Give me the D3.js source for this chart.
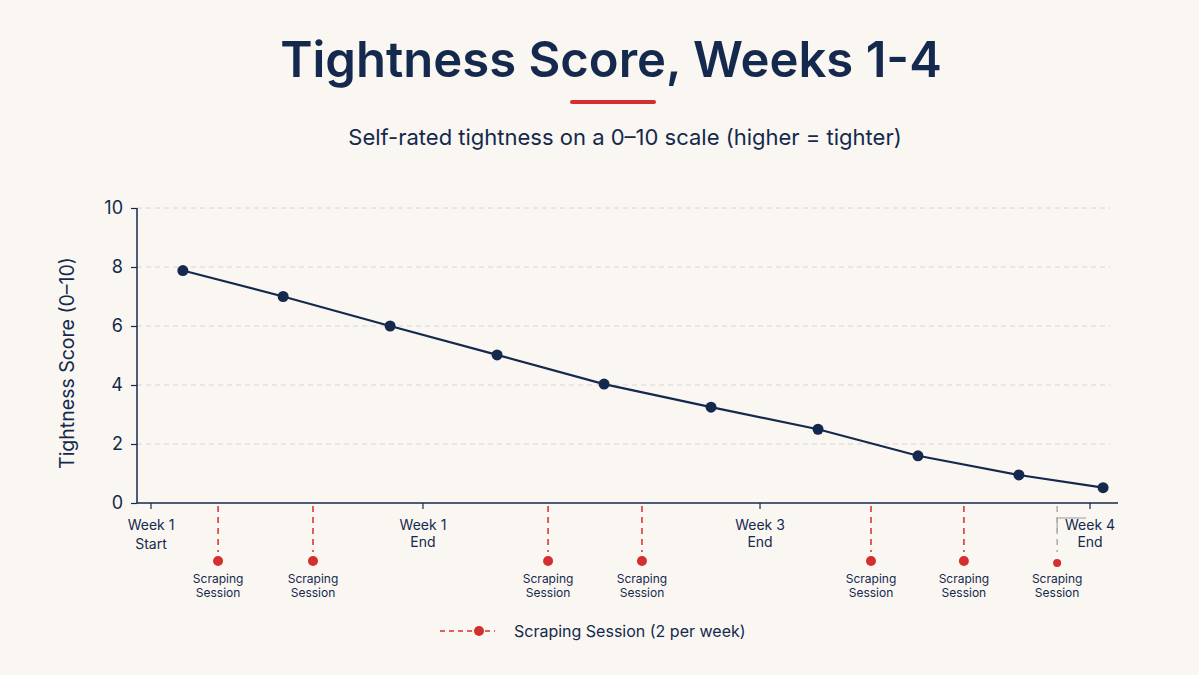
<!DOCTYPE html>
<html>
<head>
<meta charset="utf-8">
<script src="https://cdn.jsdelivr.net/npm/d3@7"></script>
<style>
  body { margin: 0; background: #faf7f2; }
  svg { display: block; font-family: Inter, "Noto Sans", sans-serif; }
</style>
</head>
<body>
<svg id="chart" width="1199" height="675" viewBox="0 0 1199 675"></svg>
<script>
// x positions are in "days" from week 1 start
let scoreDays = [0.95, 3.94, 7.13, 10.32, 13.51, 16.70, 19.89, 22.87, 25.88, 28.39];
let scoreValues = [7.88, 7.0, 6.0, 5.02, 4.03, 3.25, 2.5, 1.6, 0.95, 0.52];

let weekTickDays = [0, 8.11, 18.16, 28];
let weekTickLabels = [['Week 1', 'Start'], ['Week 1', 'End'], ['Week 3', 'End'], ['Week 4', 'End']];

let sessionDays = [2.0, 4.83, 11.84, 14.64, 21.47, 24.24, 27.02];
let sessionLabel = ['Scraping', 'Session'];

let yTicks = [0, 2, 4, 6, 8, 10];

let navy = '#14294d';
let red = '#d32f2f';

let svg = d3.select('#chart');
let width = 1199;

// scales
let xScale = d3.scaleLinear().domain([0, 28]).range([151, 1090]);
let yScale = d3.scaleLinear().domain([0, 10]).range([503, 208]);
let xLeft = 137, xRight = 1118;

// title
svg.append('text')
    .attr('x', 611)
    .attr('y', 77)
    .style('text-anchor', 'middle')
    .style('font-size', '49px')
    .style('font-weight', '600')
    .style('fill', navy)
    .text('Tightness Score, Weeks 1-4');
svg.append('line')
    .attr('x1', 572).attr('x2', 654)
    .attr('y1', 102).attr('y2', 102)
    .attr('stroke', red)
    .attr('stroke-width', 4)
    .attr('stroke-linecap', 'round');
svg.append('text')
    .attr('x', 625)
    .attr('y', 145)
    .style('text-anchor', 'middle')
    .style('font-size', '22px')
    .style('fill', navy)
    .text('Self-rated tightness on a 0\u201310 scale (higher = tighter)');

// grid
svg.append('g')
    .selectAll('line')
    .data(yTicks.filter(d => d > 0))
    .enter()
        .append('line')
        .attr('x1', xLeft).attr('x2', 1110)
        .attr('y1', d => yScale(d)).attr('y2', d => yScale(d))
        .attr('stroke', '#d8d6d2')
        .attr('stroke-width', 1)
        .attr('stroke-dasharray', '5,4');

// y axis
let yAxis = svg.append('g')
    .attr('transform', 'translate(' + xLeft + ',0)')
    .call(d3.axisLeft(yScale).tickValues(yTicks).tickSize(6).tickPadding(8));
yAxis.select('.domain').attr('stroke', navy).attr('stroke-width', 1.5).attr('d', 'M0,' + yScale(10) + 'V' + yScale(0));
yAxis.selectAll('.tick line').attr('stroke', navy).attr('stroke-width', 1.2);
yAxis.selectAll('.tick text')
    .style('font-size', '18px')
    .style('font-family', 'Inter, sans-serif')
    .attr('fill', navy);

svg.append('text')
    .attr('transform', 'rotate(-90)')
    .attr('x', -363)
    .attr('y', 74)
    .style('text-anchor', 'middle')
    .style('font-size', '19.5px')
    .style('fill', navy)
    .text('Tightness Score (0\u201310)');

// x axis
svg.append('line')
    .attr('x1', xLeft).attr('x2', xRight)
    .attr('y1', yScale(0)).attr('y2', yScale(0))
    .attr('stroke', navy)
    .attr('stroke-width', 1.5);

let weekTicks = svg.append('g')
    .selectAll('g')
    .data(weekTickDays)
    .enter()
        .append('g')
        .attr('transform', d => 'translate(' + xScale(d) + ',' + yScale(0) + ')');
weekTicks.append('line')
    .attr('y1', 0).attr('y2', 6)
    .attr('stroke', navy)
    .attr('stroke-width', 1.2);
weekTicks.each(function(d, i){
    let t = d3.select(this).append('text')
        .style('text-anchor', 'middle')
        .style('font-size', '14px')
        .style('fill', navy);
    weekTickLabels[i].forEach((s, j) => {
        t.append('tspan').attr('x', 0).attr('y', 27 + j * (i == 0 ? 19 : 17)).text(s);
    });
});

// odd bracket next to the week 4 label
let lastSession = xScale(sessionDays[sessionDays.length - 1]);
svg.append('path')
    .attr('d', 'M' + lastSession + ',532V518H' + (xScale(28) - 4))
    .attr('fill', 'none')
    .attr('stroke', '#9a9a9a')
    .attr('stroke-width', 1);

// scraping sessions
let sessions = svg.append('g')
    .selectAll('g')
    .data(sessionDays)
    .enter()
        .append('g')
        .attr('transform', d => 'translate(' + xScale(d) + ',' + yScale(0) + ')');
sessions.append('line')
    .attr('y1', 3).attr('y2', 49)
    .attr('stroke', (d, i) => i == sessionDays.length - 1 ? '#b0aaa6' : red)
    .attr('stroke-width', 1.5)
    .attr('stroke-dasharray', '6,5');
sessions.append('circle')
    .attr('cy', (d, i) => i == sessionDays.length - 1 ? 60 : 58)
    .attr('r', (d, i) => i == sessionDays.length - 1 ? 4 : 5)
    .attr('fill', red);
sessions.each(function(d){
    let t = d3.select(this).append('text')
        .style('text-anchor', 'middle')
        .style('font-size', '12px')
        .style('fill', navy);
    sessionLabel.forEach((s, j) => {
        t.append('tspan').attr('x', 0).attr('y', 80 + j * 14).text(s);
    });
});

// score line
let line = d3.line()
    .x((d, i) => xScale(scoreDays[i]))
    .y(d => yScale(d));
svg.append('path')
    .datum(scoreValues)
    .attr('d', line)
    .attr('fill', 'none')
    .attr('stroke', navy)
    .attr('stroke-width', 2.2);
svg.append('g')
    .selectAll('circle')
    .data(scoreValues)
    .enter()
        .append('circle')
        .attr('cx', (d, i) => xScale(scoreDays[i]))
        .attr('cy', d => yScale(d))
        .attr('r', 5.5)
        .attr('fill', navy);

// legend
let legend = svg.append('g').attr('transform', 'translate(440,631)');
legend.append('line')
    .attr('x1', 0).attr('x2', 55)
    .attr('stroke', red)
    .attr('stroke-width', 1.5)
    .attr('stroke-dasharray', '5,4');
legend.append('circle')
    .attr('cx', 39)
    .attr('r', 5)
    .attr('fill', red);
legend.append('text')
    .attr('x', 74)
    .attr('y', 6)
    .style('font-size', '16px')
    .style('fill', navy)
    .text('Scraping Session (2 per week)');
</script>
</body>
</html>
